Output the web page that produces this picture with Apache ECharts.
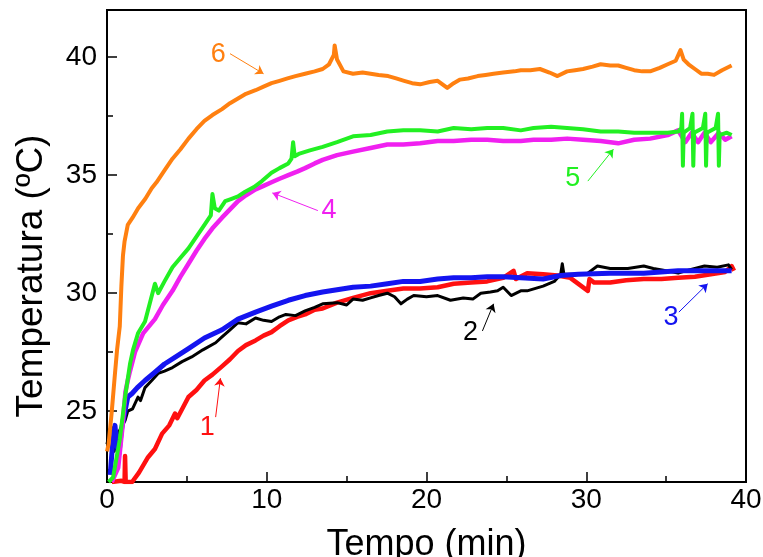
<!DOCTYPE html>
<html>
<head>
<meta charset="utf-8">
<script src="https://cdn.jsdelivr.net/npm/echarts@6/dist/echarts.min.js"></script>
<style>html,body{margin:0;padding:0;background:#fff;}#chart{width:763px;height:557px;}</style>
</head>
<body>
<div id="chart"></div>
<script>
// ---- data ----
const xTickInterval = 10;
const yTickValues = [25, 30, 35, 40];
const yMinorTickValues = [22.5, 27.5, 32.5, 37.5];

const seriesNames = ['1', '2', '3', '4', '5', '6'];
const seriesColors = ['#ff1010', '#000000', '#1414f0', '#f020f0', '#22f022', '#ff8010'];

const s1 = [[0.3,22.0],[0.9,22.05],[1.1,22.0],[1.13,23.1],[1.17,22.0],[1.57,22.0],[2.0,22.4],[2.57,23.05],[3.0,23.4],[3.45,24.05],[3.9,24.4],[4.26,24.9],[4.4,24.7],[5.1,25.6],[5.6,25.9],[6.1,26.3],[6.6,26.55],[7.2,26.9],[7.7,27.2],[8.2,27.55],[8.7,27.8],[9.3,28.0],[9.8,28.2],[10.3,28.35],[10.8,28.6],[11.35,28.85],[11.9,29.0],[12.4,29.1],[13.0,29.3],[13.5,29.35],[14.4,29.6],[15.4,29.8],[16.5,30.0],[17.55,30.1],[18.55,30.2],[19.6,30.2],[20.7,30.25],[21.7,30.4],[22.8,30.45],[23.8,30.5],[24.8,30.65],[25.45,30.95],[25.6,30.6],[26.3,30.85],[27.3,30.8],[28.2,30.75],[29.0,30.65],[30.1,30.1],[30.2,30.6],[30.5,30.45],[31.5,30.45],[32.5,30.55],[33.6,30.6],[34.7,30.6],[35.75,30.65],[36.8,30.7],[37.8,30.8],[38.7,30.9],[39.1,31.15],[39.25,30.95]];

const s2 = [[0,23.6],[0.15,24.2],[0.35,24.3],[0.45,23.3],[0.6,24.0],[0.8,24.2],[1.13,24.6],[1.3,25.0],[1.6,25.1],[1.94,25.6],[2.1,25.45],[2.38,26.0],[2.8,26.3],[3.2,26.6],[3.6,26.7],[4.1,26.85],[4.7,27.1],[5.3,27.3],[6.0,27.6],[6.8,27.9],[7.2,28.15],[7.7,28.45],[8.2,28.75],[8.7,28.7],[9.3,28.95],[9.8,28.85],[10.3,28.8],[10.8,29.0],[11.2,29.1],[11.8,29.05],[12.4,29.25],[13.0,29.4],[13.5,29.55],[14.4,29.6],[15.0,29.5],[15.4,29.75],[16.0,29.7],[16.5,29.8],[17.0,29.9],[17.55,30.0],[18.0,29.85],[18.4,29.55],[18.8,29.75],[19.2,29.9],[20.0,29.85],[20.7,29.9],[21.5,29.7],[22.3,29.8],[22.9,29.75],[23.4,30.0],[24.0,30.05],[24.45,30.1],[24.8,30.25],[25.3,29.9],[25.9,30.1],[26.3,30.1],[27.3,30.3],[28.0,30.5],[28.4,30.8],[28.5,31.25],[28.6,30.8],[29.5,30.8],[30.1,30.85],[30.7,31.15],[31.5,31.05],[32.6,31.05],[33.6,31.15],[34.2,31.05],[35.0,30.95],[35.75,30.85],[36.5,31.0],[37.4,31.15],[38.2,31.1],[38.9,31.2],[39.1,31.0]];

const s3 = [[0.2,22.3],[0.35,23.6],[0.5,24.4],[0.6,23.6],[0.75,23.2],[0.9,24.2],[1.1,24.9],[1.3,25.6],[1.57,25.75],[1.9,26.0],[2.38,26.3],[3.0,26.65],[3.6,27.0],[4.3,27.3],[5.1,27.65],[6.1,28.1],[7.2,28.45],[8.2,28.9],[9.3,29.2],[10.3,29.45],[11.35,29.7],[12.4,29.9],[13.5,30.05],[14.4,30.15],[15.4,30.25],[16.5,30.3],[17.55,30.4],[18.55,30.5],[19.6,30.5],[20.7,30.6],[21.7,30.65],[22.8,30.65],[23.8,30.7],[24.8,30.7],[25.9,30.65],[27.3,30.6],[28.4,30.75],[29.5,30.8],[31.5,30.85],[33.6,30.85],[35.75,30.95],[37.5,30.95],[39.1,30.95]];

const s4 = [[0.3,22.0],[0.7,22.6],[0.95,24.2],[1.15,25.8],[1.3,26.3],[1.44,26.7],[1.75,27.5],[2.26,28.3],[3.0,28.9],[3.5,29.5],[4.1,30.1],[4.6,30.7],[5.1,31.25],[5.6,31.8],[6.1,32.3],[6.6,32.75],[7.2,33.2],[7.7,33.55],[8.2,33.9],[8.7,34.15],[9.3,34.4],[9.8,34.55],[10.3,34.7],[10.8,34.85],[11.35,35.0],[11.9,35.15],[12.4,35.3],[13.0,35.5],[13.5,35.65],[14.4,35.85],[15.4,36.0],[16.5,36.15],[17.55,36.3],[18.55,36.3],[19.6,36.35],[20.7,36.45],[21.7,36.45],[22.8,36.5],[23.8,36.5],[24.8,36.45],[25.9,36.45],[26.7,36.5],[27.8,36.5],[28.8,36.55],[29.8,36.5],[30.9,36.45],[32.0,36.35],[33.0,36.5],[34.0,36.55],[35.1,36.7],[35.75,36.9],[36.2,36.4],[36.6,36.8],[37.0,36.4],[37.4,36.8],[37.8,36.4],[38.3,36.8],[38.7,36.5],[39.1,36.65]];

const s5 = [[0.1,22.0],[0.38,22.2],[0.8,23.8],[1.13,25.6],[1.44,27.0],[1.63,27.6],[1.94,28.3],[2.38,28.8],[3.0,30.4],[3.2,30.0],[3.6,30.5],[4.1,31.1],[4.6,31.5],[5.1,31.9],[5.6,32.4],[6.1,32.9],[6.5,33.3],[6.6,34.2],[6.75,33.6],[7.0,33.5],[7.4,33.9],[7.8,34.0],[8.2,34.1],[8.65,34.3],[9.2,34.5],[9.7,34.75],[10.3,35.1],[10.8,35.3],[11.35,35.5],[11.55,35.7],[11.65,36.4],[11.75,35.8],[12.0,35.9],[12.7,36.05],[13.5,36.2],[14.4,36.4],[15.4,36.65],[16.5,36.7],[17.55,36.85],[18.55,36.9],[19.6,36.9],[20.7,36.85],[21.7,37.0],[22.8,36.95],[23.8,37.0],[24.8,37.0],[25.9,36.9],[26.7,37.0],[27.8,37.05],[28.8,37.0],[29.8,36.95],[30.9,36.85],[32.0,36.85],[33.0,36.8],[34.0,36.8],[35.1,36.8],[35.75,36.85],[35.95,37.0],[36.0,37.6],[36.05,35.4],[36.1,36.8],[36.5,37.0],[36.65,37.6],[36.7,35.4],[36.75,36.8],[37.3,37.0],[37.45,37.6],[37.5,35.4],[37.55,36.8],[38.1,37.0],[38.25,37.6],[38.3,35.4],[38.35,36.7],[38.8,36.8],[39.1,36.7]];

const s6 = [[0,23.3],[0.1,23.6],[0.3,25.0],[0.5,26.6],[0.63,27.6],[0.8,28.6],[0.9,30.3],[1.0,31.6],[1.1,32.2],[1.3,32.9],[1.6,33.2],[1.95,33.6],[2.4,34.0],[2.8,34.45],[3.1,34.7],[3.6,35.2],[4.1,35.7],[4.6,36.1],[5.1,36.55],[5.6,36.95],[6.1,37.3],[6.6,37.55],[7.2,37.8],[7.7,38.05],[8.2,38.25],[8.7,38.45],[9.3,38.6],[9.8,38.75],[10.3,38.9],[10.8,39.0],[11.3,39.1],[11.8,39.2],[12.4,39.3],[13.0,39.4],[13.5,39.5],[13.9,39.7],[14.2,40.1],[14.25,40.5],[14.4,39.9],[14.8,39.4],[15.4,39.3],[16.0,39.35],[16.5,39.3],[17.0,39.25],[17.6,39.2],[18.1,39.1],[18.6,39.0],[19.1,38.9],[19.6,38.85],[20.2,38.95],[20.7,39.0],[21.0,38.85],[21.3,38.7],[21.7,38.9],[22.1,39.05],[22.6,39.1],[23.2,39.2],[23.7,39.25],[24.2,39.3],[24.8,39.35],[25.5,39.4],[25.9,39.45],[26.5,39.45],[27.1,39.5],[27.7,39.35],[28.2,39.2],[28.8,39.4],[29.3,39.45],[29.8,39.5],[30.4,39.6],[30.9,39.7],[31.5,39.65],[32.0,39.65],[32.5,39.55],[33.0,39.45],[33.5,39.4],[34.0,39.4],[34.6,39.55],[35.1,39.7],[35.6,39.85],[35.9,40.3],[36.1,39.9],[36.4,39.7],[36.8,39.5],[37.2,39.3],[37.6,39.3],[38.0,39.25],[38.5,39.45],[39.1,39.65]];

// annotation numbers and arrows (data coordinates)
const labelPos  = [[6.27,24.3],[22.76,28.33],[35.3,28.96],[13.9,33.5],[29.15,34.87],[6.96,40.1]];
const arrowFrom = [[6.8,24.75],[23.5,28.4],[35.8,29.2],[13.2,33.5],[30.1,34.75],[7.7,40.15]];
const arrowTo   = [[7.1,26.4],[24.2,29.55],[37.6,30.4],[10.35,34.25],[31.7,36.1],[9.8,39.3]];

// ---- chart ----
const FONT = '"Liberation Sans", Arial, sans-serif';
const allData = [s1, s2, s3, s4, s5, s6];
const lineWidths = [4.5, 3, 5, 4.5, 4, 4];

const series = allData.map((d, i) => ({
  name: seriesNames[i],
  type: 'line',
  data: d,
  showSymbol: false,
  symbol: 'none',
  smooth: false,
  z: 2 + i,
  lineStyle: { color: seriesColors[i], width: lineWidths[i], join: 'round' },
  itemStyle: { color: seriesColors[i] },
  markPoint: {
    symbol: 'circle',
    symbolSize: 0,
    silent: true,
    data: [{ coord: labelPos[i], value: seriesNames[i] }],
    label: {
      show: true, position: 'inside', formatter: seriesNames[i],
      color: seriesColors[i], fontSize: 27, fontFamily: FONT
    }
  },
  markLine: {
    silent: true,
    symbol: ['none', 'arrow'],
    symbolSize: 8,
    label: { show: false },
    lineStyle: { color: seriesColors[i], width: 1, type: 'solid' },
    data: [[{ coord: arrowFrom[i] }, { coord: arrowTo[i] }]]
  }
}));

const chart = echarts.init(document.getElementById('chart'));
chart.setOption({
  animation: false,
  backgroundColor: '#fff',
  textStyle: { fontFamily: FONT },
  grid: {
    left: 107, right: 17, top: 10, bottom: 75,
    containLabel: false, outerBoundsMode: 'none',
    show: true, borderColor: '#000', borderWidth: 2, backgroundColor: 'transparent'
  },
  xAxis: {
    type: 'value', min: 0, max: 40, interval: xTickInterval,
    name: 'Tempo (min)', nameLocation: 'middle', nameGap: 45,
    nameTextStyle: { fontSize: 36, color: '#000', fontFamily: FONT },
    axisLine: { show: true, lineStyle: { color: '#000', width: 2 } },
    axisTick: { show: true, inside: true, length: 10, lineStyle: { color: '#000', width: 1.5 } },
    minorTick: { show: true, splitNumber: 2, length: 6, lineStyle: { color: '#000', width: 1.5 } },
    axisLabel: { fontSize: 28, color: '#000', margin: 4, fontFamily: FONT },
    splitLine: { show: false }, minorSplitLine: { show: false }
  },
  yAxis: [{
    type: 'value', min: 22, max: 42,
    name: 'Temperatura (ºC)', nameLocation: 'middle', nameGap: 57,
    nameTextStyle: { fontSize: 37, color: '#000', fontFamily: FONT, padding: [0, 60, 0, 0] },
    axisLine: { show: true, lineStyle: { color: '#000', width: 2 } },
    axisTick: { show: true, inside: true, length: 10, customValues: yTickValues, lineStyle: { color: '#000', width: 1.5 } },
    axisLabel: { fontSize: 28, color: '#000', margin: 10, customValues: yTickValues, fontFamily: FONT },
    splitLine: { show: false }
  }, {
    type: 'value', min: 22, max: 42, position: 'left',
    axisLine: { show: false },
    axisTick: { show: true, inside: true, length: 6, customValues: yMinorTickValues, lineStyle: { color: '#000', width: 1.5 } },
    axisLabel: { show: false },
    splitLine: { show: false }
  }],
  series: series
});
</script>
</body>
</html>
